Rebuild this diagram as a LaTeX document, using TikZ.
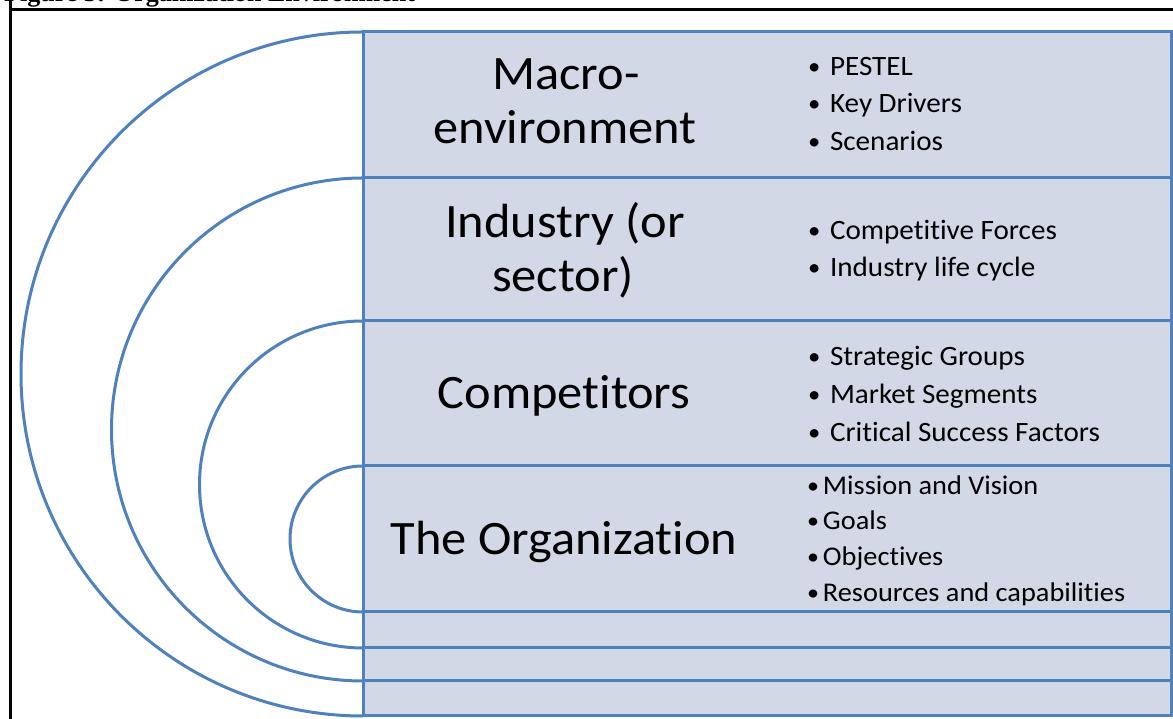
\documentclass[tikz,border=0pt]{standalone}
\usepackage{fontspec}
\setmainfont{Carlito}[Ligatures=NoCommon]
\newfontfamily\capfont{Liberation Serif}
\definecolor{boxblue}{RGB}{79,129,189}
\definecolor{boxfill}{RGB}{210,216,230}
\newcommand{\bulA}[1]{\makebox[21pt][l]{\raisebox{1pt}{\scalebox{0.85}{•}}}#1}
\newcommand{\bulB}[1]{\makebox[15pt][l]{\raisebox{1pt}{\scalebox{0.85}{•}}}#1}
\begin{document}
\begin{tikzpicture}[x=1pt,y=1pt,
  ring/.style={draw=boxblue,line width=3pt},
  band/.style={draw=boxblue,line width=3pt,fill=boxfill},
  big/.style={font=\fontsize{48}{54}\selectfont,anchor=base,inner sep=0pt,xscale=1.05,transform shape},
  itemA/.style={font=\fontsize{28}{32}\selectfont,anchor=base west,inner sep=0pt,xscale=1.04,transform shape},
  itemB/.style={font=\fontsize{27}{31}\selectfont,anchor=base west,inner sep=0pt,xscale=1.05,transform shape}]
\clip (0,0) rectangle (1173,719);
\fill[white] (0,0) rectangle (1173,719);
% caption (cut off at the top)
\node[anchor=base west,inner sep=0pt,font=\capfont\bfseries\fontsize{26}{30}\selectfont] (cap) at (4,717) {Figure 3: Organization Environment};
% frame
\draw[line width=3pt] (10,740) -- (10,709) -- (1190,709);
\draw[line width=3pt] (10,709) -- (10,-20);
% macro-environment
\draw[band] (363,687) rectangle (1171,3);
\draw[ring] (363,687) arc[start angle=90,end angle=270,radius=342];
% industry
\draw[band] (363,541) rectangle (1171,38);
\draw[ring] (363,541) arc[start angle=90,end angle=270,radius=251.5];
% competitors
\draw[band] (363,398) rectangle (1171,71);
\draw[ring] (363,398) arc[start angle=90,end angle=270,radius=163.5];
% organization
\draw[band] (363,253) rectangle (1171,107);
\draw[ring] (363,253) arc[start angle=90,end angle=270,radius=73];
% titles
\node[big] (macro1) at (566,629) {Macro-};
\node[big] (macro2) at (565,575) {environment};
\node[big] (ind1) at (565,481) {Industry (or};
\node[big] (ind2) at (563,427) {sector)};
\node[big] (comp) at (564,310) {Competitors};
\node[big] (org) at (564,164) {The Organization};
% bullets
\node[itemA] (m1) at (808,643) {\bulA{PESTEL}};
\node[itemA] (m2) at (808,606) {\bulA{Key Drivers}};
\node[itemA] (m3) at (808,568) {\bulA{Scenarios}};
\node[itemA] (i1) at (808,479) {\bulA{Competitive Forces}};
\node[itemA] (i2) at (808,442) {\bulA{Industry life cycle}};
\node[itemA] (c1) at (808,353) {\bulA{Strategic Groups}};
\node[itemA] (c2) at (808,315) {\bulA{Market Segments}};
\node[itemA] (c3) at (808,277) {\bulA{Critical Success Factors}};
\node[itemB] (o1) at (807,224) {\bulB{Mission and Vision}};
\node[itemB] (o2) at (807,189) {\bulB{Goals}};
\node[itemB] (o3) at (807,153) {\bulB{Objectives}};
\node[itemB] (o4) at (807,117) {\bulB{Resources and capabilities}};
\end{tikzpicture}
\end{document}
